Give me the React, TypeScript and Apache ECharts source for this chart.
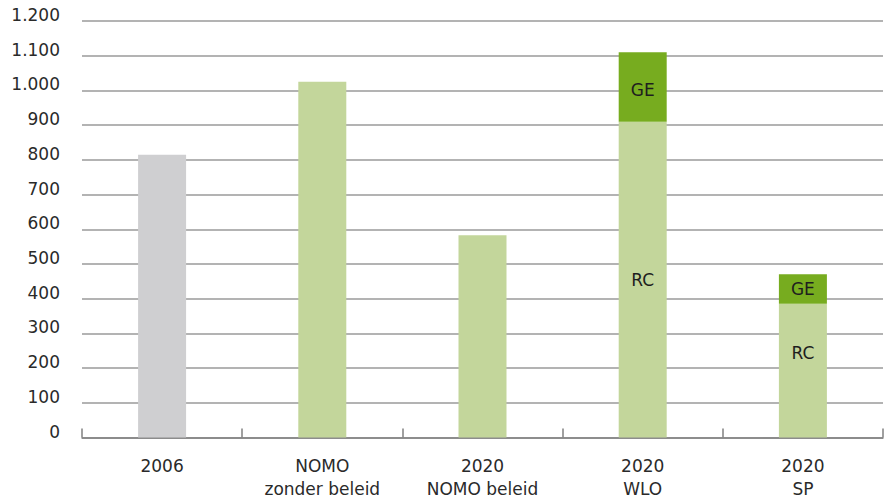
import React, { useEffect, useRef } from "react";
import * as echarts from "echarts";

const categories = ["2006", "NOMO\nzonder beleid", "2020\nNOMO beleid", "2020\nWLO", "2020\nSP"];
const baseValues = [815, 1025, 583, 910, 385];
const geValues: (number | null)[] = [null, null, null, 200, 85];
const baseLabels = ["", "", "", "RC", "RC"];
const geLabels = ["", "", "", "GE", "GE"];
const yTicks = [0, 100, 200, 300, 400, 500, 600, 700, 800, 900, 1000, 1100, 1200];

const FONT = "DejaVu Sans";

function fmt(v: number) {
  return v >= 1000 ? String(v).replace(/(\d)(\d{3})$/, "$1.$2") : String(v);
}

export default function App() {
  const ref = useRef<HTMLDivElement>(null);
  useEffect(() => {
    if (!ref.current) return;
    const chart = echarts.init(ref.current, undefined, { renderer: "svg" });
    chart.setOption({
      animation: false,
      textStyle: { fontFamily: FONT },
      grid: { left: 82, right: 3, top: 21, bottom: 63.5, containLabel: false },
      xAxis: {
        type: "category",
        data: categories,
        axisLine: { show: true, lineStyle: { color: "#808080", width: 1.5 } },
        axisTick: { show: true, inside: true, length: 9, lineStyle: { color: "#808080", width: 1.5 } },
        axisLabel: {
          color: "#2a2a2a",
          fontSize: 17,
          fontFamily: FONT,
          lineHeight: 23,
          margin: 17,
        },
      },
      yAxis: {
        type: "value",
        min: 0,
        max: yTicks[yTicks.length - 1],
        interval: 100,
        axisLine: { show: false },
        axisTick: { show: false },
        splitLine: { lineStyle: { color: "#9a9a9a", width: 1.5 } },
        axisLabel: {
          color: "#2a2a2a",
          fontSize: 17,
          fontFamily: FONT,
          margin: 22,
          verticalAlign: "bottom",
          lineHeight: 12,
          formatter: (v: number) => fmt(v),
        },
      },
      series: [
        {
          name: "RC",
          type: "bar",
          stack: "total",
          barWidth: 48,
          data: baseValues.map((v, i) => ({
            value: v,
            itemStyle: { color: i === 0 ? "#cfcfd1" : "#c3d69b" },
            label: {
              show: baseLabels[i] !== "",
              formatter: baseLabels[i],
              position: "inside",
              offset: i === 4 ? [0, -18] : [0, 0],
              color: "#1e1e1e",
              fontSize: 17,
              fontFamily: FONT,
            },
          })),
        },
        {
          name: "GE",
          type: "bar",
          stack: "total",
          barWidth: 48,
          data: geValues.map((v, i) => ({
            value: v === null ? "-" : v,
            itemStyle: { color: "#77ac1f" },
            label: {
              show: geLabels[i] !== "",
              formatter: geLabels[i],
              position: "inside",
              offset: i === 3 ? [0, 3] : [0, 0],
              color: "#1e1e1e",
              fontSize: 17,
              fontFamily: FONT,
            },
          })),
        },
      ],
    });
    return () => chart.dispose();
  }, []);
  return <div ref={ref} style={{ width: 886, height: 501, position: "absolute", left: 0, top: 0 }} />;
}
